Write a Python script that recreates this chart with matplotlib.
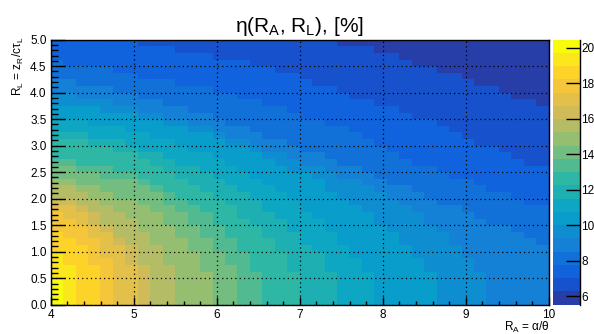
import numpy as np
import matplotlib.pyplot as plt
from matplotlib.colors import LinearSegmentedColormap, ListedColormap, BoundaryNorm

plt.rcParams['font.family'] = ['Liberation Sans', 'DejaVu Sans']
plt.rcParams['mathtext.fontset'] = 'custom'
plt.rcParams['mathtext.rm'] = 'Liberation Sans'
plt.rcParams['mathtext.it'] = 'Liberation Sans'

# histogram binning: 40 x 40 bins
ra_edges = np.linspace(4, 10, 41)
rl_edges = np.linspace(0, 5, 41)

# z range and number of colour contours (ROOT default 20)
z_min, z_max = 5.53, 20.45
n_levels = 20

# for colour level k = 1..19: how many RL bins (from the bottom) are at level >= k,
# given per RA bin (left to right); missing trailing bins are 0
level_heights = [
    [40] * 23 + [39, 39, 39, 38, 38, 37, 36, 36, 35, 35, 34, 33, 33, 32, 31, 31, 30],
    [40, 40, 40, 40, 40, 40, 40, 39, 39, 39, 38, 38, 38, 37, 37, 37, 36, 36, 35, 35,
     34, 33, 33, 32, 31, 31, 30, 30, 29, 28, 28, 27, 26, 25, 24, 24, 23, 22, 21, 21],
    [37, 36, 36, 36, 36, 35, 35, 34, 34, 34, 33, 33, 33, 32, 32, 31, 31, 30, 30, 29,
     28, 28, 27, 27, 26, 25, 24, 23, 22, 21, 21, 20, 19, 19, 18, 17, 17, 16, 15, 15],
    [34, 34, 33, 33, 33, 32, 32, 31, 31, 30, 30, 29, 29, 28, 27, 27, 26, 25, 25, 24,
     23, 23, 22, 21, 21, 20, 19, 18, 18, 17, 16, 15, 15, 14, 13, 12, 12, 11, 10, 9],
    [32, 32, 31, 31, 31, 30, 30, 29, 29, 28, 28, 27, 27, 26, 25, 25, 24, 23, 23, 22,
     21, 21, 20, 19, 19, 18, 17, 16, 15, 14, 12, 11, 9, 7, 5],
    [30, 30, 30, 30, 29, 29, 29, 28, 28, 27, 27, 26, 26, 25, 24, 24, 23, 22, 21, 20,
     20, 19, 17, 16, 15, 14, 12, 11, 9, 7, 5],
    [28, 28, 28, 27, 27, 27, 26, 26, 25, 25, 24, 23, 23, 22, 21, 20, 19, 18, 17, 16,
     14, 13, 11, 9, 7, 5],
    [26, 26, 26, 25, 25, 25, 24, 23, 23, 22, 21, 21, 20, 19, 18, 17, 16, 14, 13, 11,
     9, 8, 5],
    [25, 25, 25, 24, 24, 23, 23, 22, 21, 20, 19, 18, 17, 16, 15, 13, 12, 10, 8, 5],
    [22, 22, 21, 21, 21, 20, 20, 19, 18, 17, 16, 15, 14, 12, 10, 8, 5],
    [21, 21, 20, 20, 19, 19, 19, 18, 17, 15, 14, 12, 10, 8, 6],
    [19, 19, 18, 18, 17, 16, 16, 15, 14, 12, 10, 8, 5],
    [18, 18, 17, 16, 15, 14, 13, 11, 9, 6],
    [16, 16, 15, 14, 12, 10, 9, 6],
    [15, 15, 14, 12, 11, 9, 6],
    [14, 13, 12, 10, 7],
    [11, 10, 9, 6],
    [8, 6],
    [4],
]

# ROOT kBird palette
bird_stops = [0.0, 0.125, 0.25, 0.375, 0.5, 0.625, 0.75, 0.875, 1.0]
bird_red = [0.2082, 0.0592, 0.0780, 0.0232, 0.1802, 0.5301, 0.8186, 0.9956, 0.9764]
bird_green = [0.1664, 0.3599, 0.5041, 0.6419, 0.7178, 0.7492, 0.7328, 0.7862, 0.9832]
bird_blue = [0.5293, 0.8684, 0.8385, 0.7914, 0.6425, 0.4662, 0.3499, 0.1968, 0.0539]

bird = LinearSegmentedColormap.from_list(
    'bird', list(zip(bird_stops, zip(bird_red, bird_green, bird_blue))), N=255)
level_colors = [bird(min(int((k + 0.99) * 255 / n_levels), 254)) for k in range(n_levels)]
cmap = ListedColormap(level_colors)
bounds = np.linspace(z_min, z_max, n_levels + 1)
norm = BoundaryNorm(bounds, n_levels)

n_ra = len(ra_edges) - 1
n_rl = len(rl_edges) - 1
heights = np.array([h + [0] * (n_ra - len(h)) for h in level_heights])  # (19, n_ra)
rows = np.arange(n_rl)[:, None, None]
level = (rows < heights[None, :, :]).sum(axis=1)  # (n_rl, n_ra)
dz = (z_max - z_min) / n_levels
eta = z_min + (level + 0.5) * dz

W, H = 594, 334
fig = plt.figure(figsize=(W / 100, H / 100), dpi=100)
x0, x1, y0, y1 = 50.7, 548.7, 39.7, 304.7
ax = fig.add_axes([x0 / W, 1 - y1 / H, (x1 - x0) / W, (y1 - y0) / H])
mesh = ax.pcolormesh(ra_edges, rl_edges, eta, cmap=cmap, norm=norm)

ax.set_xlim(4, 10)
ax.set_ylim(0, 5)
ax.set_xticks(np.arange(4, 11, 1))
ax.set_xticks(np.arange(4, 10.01, 0.2), minor=True)
ax.set_yticks(np.arange(0, 5.01, 0.5))
ax.set_yticks(np.arange(0, 5.001, 0.1), minor=True)
ax.set_yticklabels([f"{v:.1f}" for v in np.arange(0, 5.01, 0.5)])
ax.tick_params(axis='both', which='both', direction='in', top=False, right=False,
               labelsize=8.5, width=1, colors='black')
ax.tick_params(axis='x', which='major', length=5.5, pad=3)
ax.tick_params(axis='x', which='minor', length=3)
ax.tick_params(axis='y', which='major', length=10, pad=3)
ax.tick_params(axis='y', which='minor', length=5)
ax.grid(True, which='major', color='black', linestyle=(0, (1, 2.5)), linewidth=0.9)
for s in ax.spines.values():
    s.set_linewidth(1)

fig.text(299 / W, 1 - 32 / H,
         'η(R$_\\mathregular{A}$, R$_\\mathregular{L}$), [%]',
         ha='center', va='baseline', fontsize=15)
fig.text(550 / W, 1 - 331 / H, 'R$_\\mathregular{A}$ = α/θ',
         ha='right', va='baseline', fontsize=8.5)
fig.text(18 / W, 1 - 37 / H, 'R$_\\mathregular{L}$ = z$_\\mathregular{R}$/cτ$_\\mathregular{L}$',
         ha='center', va='top', rotation=90, fontsize=8.5)

cax = fig.add_axes([552.7 / W, 1 - y1 / H, (580 - 552.7) / W, (y1 - y0) / H])
cbar = fig.colorbar(mesh, cax=cax, ticks=np.arange(6, 21, 2))
cbar.outline.set_visible(False)
cax.plot([1, 1], [0, 1], transform=cax.transAxes, color='black', lw=1, clip_on=False)
cax.tick_params(direction='in', length=10, width=1, labelsize=8.5, pad=1)
cax.minorticks_off()

fig.savefig('out.png', dpi=100)
